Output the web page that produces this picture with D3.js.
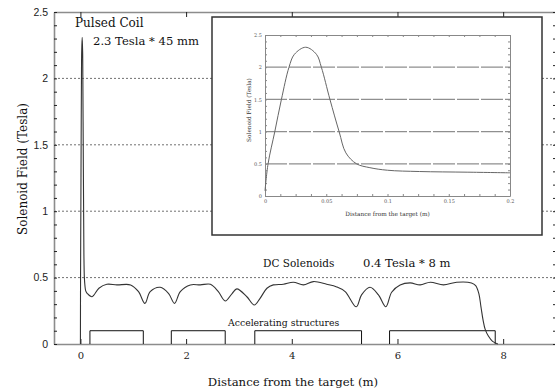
<!DOCTYPE html>
<meta charset="utf-8">
<head>
  <script src="https://d3js.org/d3.v7.min.js"></script>
  <style>
    body { margin: 0; background: #fff; }
    svg { display: block; }
  </style>
</head>
<body>
<div id="chart"></div>
<script>
// field along the channel (m, Tesla)
var mainDist = [0, 0.0025, 0.008, 0.0134, 0.0196, 0.024, 0.0332, 0.042, 0.046, 0.053, 0.0605, 0.066, 0.0747, 0.0856, 0.1, 0.13, 0.22,
  0.35, 0.5, 0.69, 0.95, 1.10, 1.22, 1.32, 1.51, 1.67, 1.78, 1.89, 2.08, 2.27, 2.46, 2.61, 2.74, 2.87, 2.96, 3.15, 3.29, 3.40,
  3.53, 3.65, 3.84, 4.03, 4.22, 4.41, 4.66, 4.85, 5.01, 5.22, 5.32, 5.48, 5.64, 5.78, 5.89, 6.05, 6.24, 6.43, 6.62, 6.87, 7.12,
  7.40, 7.48, 7.54, 7.58, 7.62, 7.66, 7.72, 7.80, 7.90];
var mainField = [0, 0.5, 1.0, 1.5, 2.0, 2.2, 2.31, 2.2, 2.0, 1.5, 1.0, 0.67, 0.5, 0.44, 0.4, 0.38, 0.356,
  0.42, 0.45, 0.445, 0.445, 0.394, 0.306, 0.394, 0.427, 0.38, 0.306, 0.394, 0.445, 0.445, 0.45, 0.394, 0.324, 0.38, 0.415, 0.356, 0.294, 0.344,
  0.42, 0.445, 0.45, 0.465, 0.445, 0.47, 0.45, 0.43, 0.395, 0.28, 0.37, 0.427, 0.37, 0.28, 0.39, 0.445, 0.46, 0.445, 0.465, 0.445, 0.465,
  0.46, 0.44, 0.38, 0.28, 0.18, 0.11, 0.06, 0.02, 0];

// zoom on the pulsed coil
var insetDist = [0, 0.0025, 0.008, 0.0134, 0.0196, 0.024, 0.0332, 0.042, 0.046, 0.053, 0.0605, 0.066, 0.0747, 0.0856, 0.1, 0.126, 0.165, 0.2];
var insetField = [0.08, 0.5, 1.0, 1.5, 2.0, 2.2, 2.31, 2.2, 2.0, 1.5, 1.0, 0.67, 0.5, 0.44, 0.4, 0.38, 0.37, 0.36];

// accelerating structures
var boxStart = [0.18, 1.72, 3.30, 5.85];
var boxEnd = [1.19, 2.74, 5.32, 7.85];
var boxHeight = 0.1;

var xTicks = [0, 2, 4, 6, 8];
var yTicks = [0, 0.5, 1, 1.5, 2, 2.5];
var gridLevels = [0.5, 1, 1.5, 2];
var insetXTicks = [0, 0.05, 0.1, 0.15, 0.2];
var insetYTicks = [0, 0.5, 1, 1.5, 2, 2.5];

var SERIF = "'DejaVu Serif', 'Liberation Serif', serif";
var SANS = "'Liberation Sans', 'DejaVu Sans', sans-serif";

var svg = d3.select("#chart").append("svg")
  .attr("width", 555)
  .attr("height", 391);

var x = d3.scaleLinear().domain([-0.5, 9]).range([54, 556]);
var y = d3.scaleLinear().domain([0, 2.5]).range([344, 12]);

// dashed grid
svg.selectAll(".grid").data(gridLevels).enter().append("line")
  .attr("x1", x(-0.5)).attr("x2", x(9))
  .attr("y1", d => y(d)).attr("y2", d => y(d))
  .attr("stroke", "#333").attr("stroke-width", 0.7)
  .attr("stroke-dasharray", "2,2");

function styleAxis(g) {
  g.select(".domain").attr("stroke", "#8c8c8c").attr("stroke-width", 1.6);
  g.selectAll(".tick line").attr("stroke", "#222");
}

var minorY = d3.range(0, 2.51, 0.1);

svg.append("g").attr("transform", "translate(0," + y(0) + ")")
  .call(d3.axisBottom(x).tickValues(xTicks).tickSize(-5).tickSizeOuter(0).tickPadding(8))
  .call(styleAxis)
  .selectAll("text").style("font-family", SERIF).style("font-size", "10px").attr("fill", "#222");

svg.append("g").attr("transform", "translate(0," + y(2.5) + ")")
  .call(d3.axisTop(x).tickValues(xTicks).tickSize(-5).tickSizeOuter(0).tickFormat(""))
  .call(styleAxis);

svg.append("g").attr("transform", "translate(" + x(-0.5) + ",0)")
  .call(d3.axisLeft(y).tickValues(minorY).tickSize(-3).tickSizeOuter(0).tickFormat(""))
  .call(styleAxis);

svg.append("g").attr("transform", "translate(" + x(-0.5) + ",0)")
  .call(d3.axisLeft(y).tickValues(yTicks).tickSize(0).tickPadding(6).tickFormat(d3.format("~g")))
  .call(g => g.select(".domain").remove())
  .selectAll("text").style("font-family", SANS).style("font-size", "10.5px").attr("fill", "#222");

svg.append("g").attr("transform", "translate(" + x(9) + ",0)")
  .call(d3.axisRight(y).tickValues(minorY).tickSize(-3).tickSizeOuter(0).tickFormat(""))
  .call(styleAxis);

// accelerating structures
svg.selectAll(".box").data(boxStart).enter().append("path")
  .attr("d", (d, i) => "M" + x(d) + "," + y(0) + "V" + y(boxHeight) + "H" + x(boxEnd[i]) + "V" + y(0))
  .attr("fill", "none").attr("stroke", "#111").attr("stroke-width", 1);

// main field curve
var mainLine = d3.line()
  .x((d, i) => x(mainDist[i]))
  .y(d => y(d))
  .curve(d3.curveCatmullRom.alpha(0.5));

svg.append("path").datum(mainField)
  .attr("d", mainLine)
  .attr("fill", "none").attr("stroke", "#333").attr("stroke-width", 1.1);

// labels
function label(sel, txt, px, py, size) {
  return sel.append("text").attr("x", px).attr("y", py)
    .style("font-family", SERIF).style("font-size", size + "px").attr("fill", "#111").text(txt);
}
label(svg, "Pulsed Coil", 75, 27, 12);
label(svg, "2.3 Tesla * 45 mm", 93, 45, 11.6);
label(svg, "DC Solenoids", 263, 267, 10.5);
label(svg, "0.4 Tesla * 8 m", 363, 267, 11.6);
label(svg, "Accelerating structures", 228, 326, 9.3);
label(svg, "Distance from the target (m)", 293, 386, 11.7).attr("text-anchor", "middle");
label(svg, "Solenoid Field (Tesla)", 0, 0, 12).attr("text-anchor", "middle")
  .attr("transform", "translate(27,169) rotate(-90)");

// ---- inset ----
var inset = svg.append("g");
inset.append("rect").attr("x", 212).attr("y", 17).attr("width", 330).attr("height", 218)
  .attr("fill", "#fff").attr("stroke", "#333").attr("stroke-width", 1.5);

var xi = d3.scaleLinear().domain([0, 0.2]).range([265, 510]);
var yi = d3.scaleLinear().domain([0, 2.5]).range([196, 35]);

inset.selectAll(".igrid").data(gridLevels).enter().append("line")
  .attr("x1", xi(0)).attr("x2", xi(0.2))
  .attr("y1", d => yi(d)).attr("y2", d => yi(d))
  .attr("stroke", "#8f8f8f").attr("stroke-width", 1.3)
  .attr("stroke-dasharray", "22,2");

var minorXi = d3.range(0, 0.2001, 0.0125);
var minorYi = d3.range(0, 2.51, 0.1);

function styleInset(g) {
  g.select(".domain").attr("stroke", "#888").attr("stroke-width", 1);
  g.selectAll(".tick line").attr("stroke", "#888");
  g.selectAll("text").style("font-family", SERIF).style("font-size", "5px").attr("fill", "#555");
}

inset.append("g").attr("transform", "translate(0," + yi(0) + ")")
  .call(d3.axisBottom(xi).tickValues(minorXi).tickSize(-2).tickSizeOuter(0).tickFormat(""))
  .call(styleInset);
inset.append("g").attr("transform", "translate(0," + yi(0) + ")")
  .call(d3.axisBottom(xi).tickValues(insetXTicks).tickSize(0).tickPadding(3).tickFormat(d3.format("~g")))
  .call(g => g.select(".domain").remove())
  .call(styleInset);
inset.append("g").attr("transform", "translate(0," + yi(2.5) + ")")
  .call(d3.axisTop(xi).tickValues(minorXi).tickSize(-2).tickSizeOuter(0).tickFormat(""))
  .call(styleInset);
inset.append("g").attr("transform", "translate(" + xi(0) + ",0)")
  .call(d3.axisLeft(yi).tickValues(minorYi).tickSize(-2).tickSizeOuter(0).tickFormat(""))
  .call(styleInset);
inset.append("g").attr("transform", "translate(" + xi(0) + ",0)")
  .call(d3.axisLeft(yi).tickValues(insetYTicks).tickSize(0).tickPadding(3).tickFormat(d3.format("~g")))
  .call(g => g.select(".domain").remove())
  .call(styleInset);
inset.append("g").attr("transform", "translate(" + xi(0.2) + ",0)")
  .call(d3.axisRight(yi).tickValues(minorYi).tickSize(-2).tickSizeOuter(0).tickFormat(""))
  .call(styleInset);

var insetLine = d3.line()
  .x((d, i) => xi(insetDist[i]))
  .y(d => yi(d))
  .curve(d3.curveCatmullRom.alpha(0.5));

inset.append("path").datum(insetField)
  .attr("d", insetLine)
  .attr("fill", "none").attr("stroke", "#666").attr("stroke-width", 1);

label(inset, "Distance from the target (m)", (xi(0) + xi(0.2)) / 2, 216, 5.8)
  .attr("text-anchor", "middle").attr("fill", "#333");
label(inset, "Solenoid Field (Tesla)", 0, 0, 5.8).attr("text-anchor", "middle").attr("fill", "#333")
  .attr("transform", "translate(251,110) rotate(-90)");
</script>
</body>
